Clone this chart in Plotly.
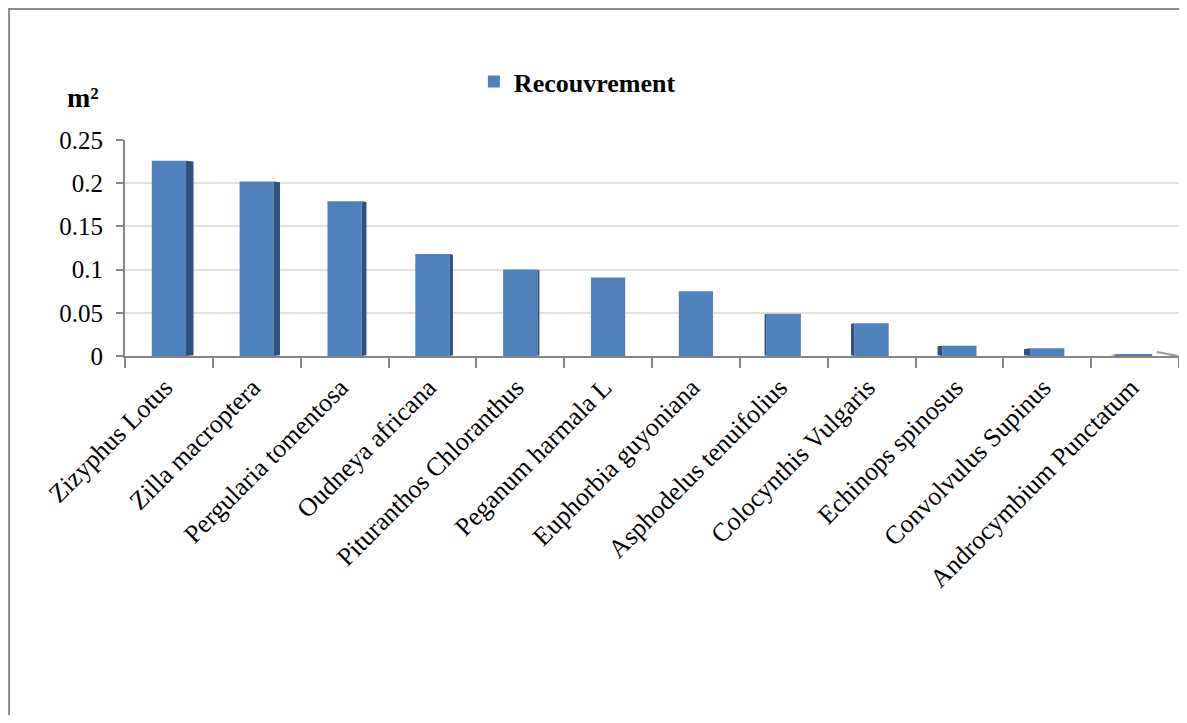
import plotly.graph_objects as go

categories = ["Zizyphus Lotus", "Zilla macroptera", "Pergularia tomentosa", "Oudneya africana",
              "Pituranthos Chloranthus", "Peganum harmala L", "Euphorbia guyoniana",
              "Asphodelus tenuifolius", "Colocynthis Vulgaris", "Echinops spinosus",
              "Convolvulus Supinus", "Androcymbium Punctatum"]
recouvrement = [0.226, 0.202, 0.179, 0.118, 0.100, 0.091, 0.075, 0.049, 0.038, 0.012, 0.009, 0.002]
y_ticks = [0, 0.05, 0.1, 0.15, 0.2, 0.25]
y_ticktext = ["0", "0.05", "0.1", "0.15", "0.2", "0.25"]

FONT = "Liberation Serif, Times New Roman, serif"
BLUE = "#4f81bd"
DARK = "#2f5380"
BAR_W = 0.39

fig = go.Figure()
fig.add_trace(go.Bar(x=categories, y=recouvrement, name="<b>Recouvrement</b>", width=BAR_W,
                     marker=dict(color=BLUE, line=dict(width=0)), xaxis="x", yaxis="y"))

# side faces (pseudo 3D) on overlaid numeric axis
n = len(categories)
mid = (n - 1) / 2
for i, v in enumerate(recouvrement):
    d = 0.085 * (mid - i) / mid
    if abs(d) < 0.015:
        continue
    edge = i + BAR_W / 2 if d > 0 else i - BAR_W / 2
    xs = [edge, edge + d, edge + d, edge, edge]
    ys = [0, 0.0008, v - 0.0008, v, 0]
    fig.add_trace(go.Scatter(x=xs, y=ys, fill="toself", fillcolor=DARK, mode="lines",
                             line=dict(width=0, color=DARK), showlegend=False,
                             hoverinfo="skip", xaxis="x2", yaxis="y"))

fig.update_layout(
    width=1171, height=707,
    margin=dict(l=117, r=0, t=132, b=359),
    paper_bgcolor="white", plot_bgcolor="white",
    font=dict(family=FONT, color="black"),
    showlegend=True,
    legend=dict(x=0.331, y=1.27, xanchor="left", yanchor="middle", orientation="h",
                font=dict(family=FONT, size=26, color="black"), bgcolor="rgba(0,0,0,0)",
                itemwidth=30),
    xaxis=dict(type="category", range=[-0.5, n - 0.5], showgrid=False,
               showline=True, linecolor="#868686", linewidth=2,
               ticks="outside", tickson="boundaries", ticklen=10, tickcolor="#868686",
               tickwidth=2, tickangle=-45, ticklabelstandoff=4, ticklabelshift=-4,
               tickfont=dict(family=FONT, size=26, color="black")),
    xaxis2=dict(overlaying="x", range=[-0.5, n - 0.5], visible=False, showgrid=False),
    yaxis=dict(range=[0, 0.25], tickvals=y_ticks, ticktext=y_ticktext,
               showgrid=True, gridcolor="#e4e2d8", gridwidth=2,
               showline=True, linecolor="#868686", linewidth=2,
               ticks="outside", ticklen=7, tickcolor="#868686", tickwidth=2,
               ticklabelstandoff=8,
               tickfont=dict(family=FONT, size=25, color="black"), zeroline=False),
    annotations=[dict(text="<b>m²</b>", x=-0.04, y=1.199, xref="paper", yref="paper",
                      xanchor="center", yanchor="middle",
                      showarrow=False, font=dict(family=FONT, size=28, color="black"))],
    shapes=[dict(type="path", xref="paper", yref="paper",
                 path="M -0.11,-1.8 L -0.11,1.6065 L 1.3,1.6065",
                 line=dict(color="#8c8c8c", width=2), layer="below"),
            dict(type="line", xref="paper", yref="paper", x0=0.979, y0=0.0185, x1=0.999, y1=0.0,
                 line=dict(color="#9a9a9a", width=2))],
)

fig.write_html("out.html")
